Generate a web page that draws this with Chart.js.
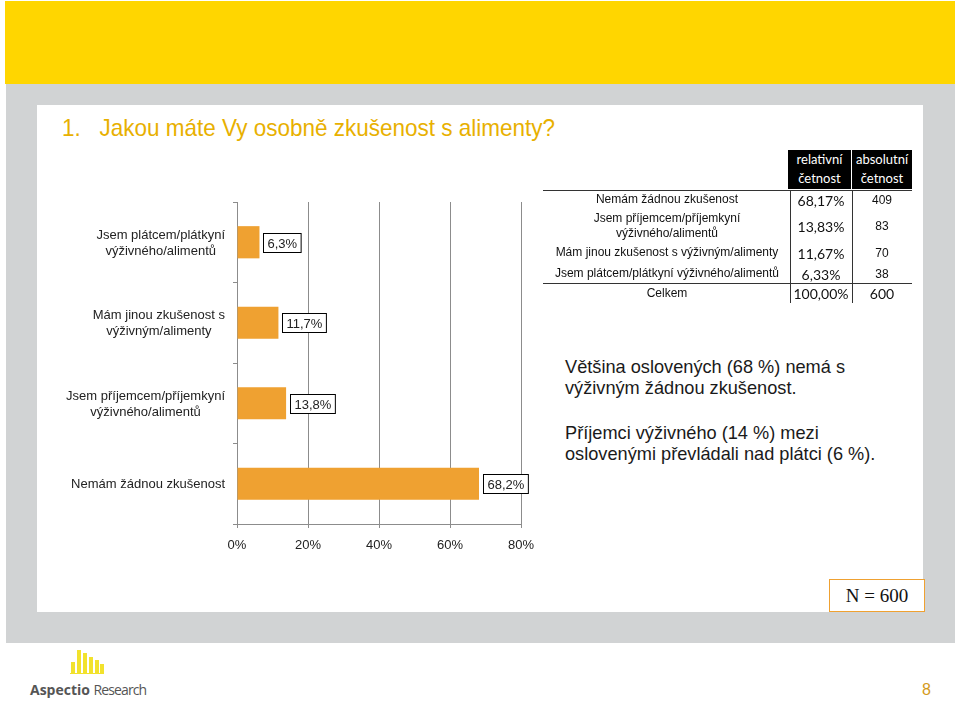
<!DOCTYPE html>
<html>
<head>
<meta charset="utf-8">
<script src="https://cdn.jsdelivr.net/npm/chart.js@4/dist/chart.umd.min.js"></script>
<style>
  html, body { margin:0; padding:0; background:#fff; }
  body { width:960px; height:701px; position:relative; overflow:hidden; font-family:"Liberation Sans", Arial, sans-serif; }
  .abs { position:absolute; }
  #yellow { left:5px; top:1px; width:950px; height:83px; background:#FFD600; }
  #gray { left:6px; top:84px; width:949px; height:559px; background:#D1D3D4; }
  #panel { left:37px; top:105px; width:886px; height:507px; background:#fff; }
  #title { left:62px; top:114px; font-family:"Liberation Sans Narrow", "Liberation Sans", Arial, sans-serif; font-size:24px; color:#E8B000; white-space:nowrap; transform-origin:0 0; }
  #chartWrap { left:37px; top:180px; width:520px; height:390px; }
  .hdr { background:#000; color:#fff; font-family:Lato, "Open Sans", sans-serif; font-size:13px; line-height:19px; text-align:center; }
  .lbl { font-size:12px; color:#111; text-align:center; white-space:nowrap; line-height:15px; }
  .val { font-family:Lato, sans-serif; font-size:14px; color:#111; text-align:center; white-space:nowrap; }
  .num { font-size:12px; color:#111; text-align:center; }
  .hl { background:#333; height:1px; }
  .vl { background:#333; width:1px; }
  .para { left:565px; font-size:18.2px; color:#1a1a1a; line-height:21px; white-space:nowrap; }
  #nbox { left:829px; top:579px; width:96px; height:33px; border:1px solid #EFA131; background:#fff; box-sizing:border-box;
          font-family:"Liberation Serif", "DejaVu Serif", serif; font-size:19px; color:#111; text-align:center; line-height:31px; }
  #page { left:922px; top:681px; font-size:16px; color:#D49A1C; }
  .lb { background:#F2E22C; width:4px; }
  #brand { left:30px; top:680px; font-family:"Open Sans", sans-serif; font-size:14px; color:#555; white-space:nowrap; }
  #brand span { letter-spacing:-0.9px; }
</style>
</head>
<body>
<div id="yellow" class="abs"></div>
<div id="gray" class="abs"></div>
<div id="panel" class="abs"></div>
<div id="title" class="abs">1.&nbsp;&nbsp;&nbsp;Jakou máte Vy osobně zkušenost s alimenty?</div>
<div id="chartWrap" class="abs"><canvas id="c" width="520" height="390"></canvas></div>
<div id="table"></div>
<div class="abs para" style="top:357px;">Většina oslovených (68 %) nemá s<br>výživným žádnou zkušenost.</div>
<div class="abs para" style="top:423px;">Příjemci výživného (14 %) mezi<br>oslovenými převládali nad plátci (6 %).</div>
<div id="nbox" class="abs">N = 600</div>
<div id="page" class="abs">8</div>
<div class="abs lb" style="left:71px;top:662px;height:11px;"></div>
<div class="abs lb" style="left:77px;top:650px;height:23px;"></div>
<div class="abs lb" style="left:83px;top:653px;height:20px;"></div>
<div class="abs lb" style="left:89px;top:657px;height:16px;"></div>
<div class="abs lb" style="left:95px;top:660px;height:13px;"></div>
<div class="abs lb" style="left:100px;top:664px;height:9px;"></div>
<div class="abs" style="left:70px;top:673px;width:34px;height:1px;background:#F2E22C;"></div>
<div id="brand" class="abs"><b>Aspectio</b> <span>Research</span></div>

<script>
// ---- data (table order) ----
const answers = [
  "Nemám žádnou zkušenost",
  "Jsem příjemcem/příjemkyní výživného/alimentů",
  "Mám jinou zkušenost s výživným/alimenty",
  "Jsem plátcem/plátkyní výživného/alimentů"
];
const relative = [68.17, 13.83, 11.67, 6.33];
const absolute = [409, 83, 70, 38];
const totalRelative = "100,00%";
const totalAbsolute = 600;

// chart order (top to bottom) and wrapped labels
const chartLabels = [
  ["Jsem plátcem/plátkyní", "výživného/alimentů"],
  ["Mám jinou zkušenost s", "výživným/alimenty"],
  ["Jsem příjemcem/příjemkyní", "výživného/alimentů"],
  ["Nemám žádnou zkušenost"]
];
const chartValues = [6.33, 11.67, 13.83, 68.17];
const xTicks = [0, 20, 40, 60, 80];

// ---- title fit ----
(function () {
  const el = document.getElementById('title');
  const w = el.getBoundingClientRect().width;
  const target = 493;
  el.style.transform = 'scaleX(' + (target / w) + ')';
})();

// ---- table ----
const t = document.getElementById('table');
function add(html, cls, style) {
  const d = document.createElement('div');
  d.className = 'abs ' + cls;
  d.setAttribute('style', style);
  d.innerHTML = html;
  t.appendChild(d);
}
add('relativní<br>četnost', 'hdr', 'left:788px;top:150px;width:63px;height:39px;');
add('absolutní<br>četnost', 'hdr', 'left:852px;top:150px;width:60px;height:39px;');
add('', 'hl', 'left:543px;top:190px;width:369px;');
add('', 'hl', 'left:543px;top:283px;width:369px;');
add('', 'vl', 'left:790px;top:190px;height:113px;');
add('', 'vl', 'left:852px;top:190px;height:113px;');
const rowY = [192, 211, 245, 266];
const rowLabels = [answers[0], "Jsem příjemcem/příjemkyní<br>výživného/alimentů", answers[2], answers[3]];
const valY = [192, 218, 245, 266];
rowLabels.forEach((l, i) => {
  add(l, 'lbl', `left:545px;top:${rowY[i]}px;width:244px;`);
  add(relative[i].toFixed(2).replace('.', ',') + '%', 'val', `left:790px;top:${valY[i]}px;width:62px;`);
  add(String(absolute[i]), 'num', `left:852px;top:${valY[i]+1}px;width:60px;`);
});
add('Celkem', 'lbl', 'left:545px;top:286px;width:244px;');
add(totalRelative, 'val', 'left:790px;top:285px;width:62px;');
add(String(totalAbsolute), 'val', 'left:852px;top:285px;width:60px;');

// ---- chart ----
const labelFont = '13px "Liberation Sans", Arial, sans-serif';
const labelPlugin = {
  id: 'labelsAndBoxes',
  afterDraw(chart) {
    const ctx = chart.ctx;
    const ys = chart.scales.y;
    ctx.save();
    ctx.font = labelFont;
    ctx.fillStyle = '#222';
    ctx.textBaseline = 'middle';
    ctx.textAlign = 'center';
    chartLabels.forEach((lines, i) => {
      const yc = ys.getPixelForValue(i);
      const widest = Math.max(...lines.map(s => ctx.measureText(s).width));
      const cx = ys.right - 12 - widest / 2;
      const lh = 16;
      lines.forEach((s, k) => {
        ctx.fillText(s, cx, yc + (k - (lines.length - 1) / 2) * lh + 1);
      });
    });
    // value boxes
    const meta = chart.getDatasetMeta(0);
    meta.data.forEach((bar, i) => {
      const txt = chartValues[i].toFixed(1).replace('.', ',') + '%';
      const w = ctx.measureText(txt).width + 8;
      const h = 19;
      const x0 = Math.round(bar.x + 4) + 0.5;
      const y0 = Math.round(bar.y - h / 2) + 0.5;
      ctx.fillStyle = '#fff';
      ctx.fillRect(x0, y0, w, h);
      ctx.strokeStyle = '#000';
      ctx.lineWidth = 1;
      ctx.strokeRect(x0, y0, w, h);
      ctx.fillStyle = '#222';
      ctx.textAlign = 'left';
      ctx.fillText(txt, x0 + 4, y0 + h / 2 + 1);
    });
    ctx.restore();
  }
};

new Chart(document.getElementById('c'), {
  type: 'bar',
  data: {
    labels: chartLabels,
    datasets: [{
      data: chartValues,
      backgroundColor: '#EFA131',
      borderWidth: 0,
      barPercentage: 0.4,
      categoryPercentage: 1.0
    }]
  },
  options: {
    indexAxis: 'y',
    responsive: false,
    animation: false,
    devicePixelRatio: 1,
    layout: { padding: { top: 22, right: 36, bottom: 0, left: 0 } },
    plugins: { legend: { display: false }, tooltip: { enabled: false } },
    scales: {
      x: {
        min: 0, max: 80,
        afterBuildTicks(scale) { scale.ticks = xTicks.map(v => ({ value: v })); },
        afterFit(scale) { scale.height = 46; },
        grid: { color: '#8c8c8c', lineWidth: 1, tickLength: 4, drawOnChartArea: true },
        border: { color: '#8c8c8c' },
        ticks: { color: '#222', font: { family: '"Liberation Sans", Arial, sans-serif', size: 13 }, padding: 10,
                 callback: v => v + '%' }
      },
      y: {
        afterFit(scale) { scale.width = 200; },
        grid: { color: '#8c8c8c', drawOnChartArea: false, tickLength: 4, offset: true },
        border: { color: '#8c8c8c' },
        ticks: { display: false }
      }
    }
  },
  plugins: [labelPlugin]
});
</script>
</body>
</html>
